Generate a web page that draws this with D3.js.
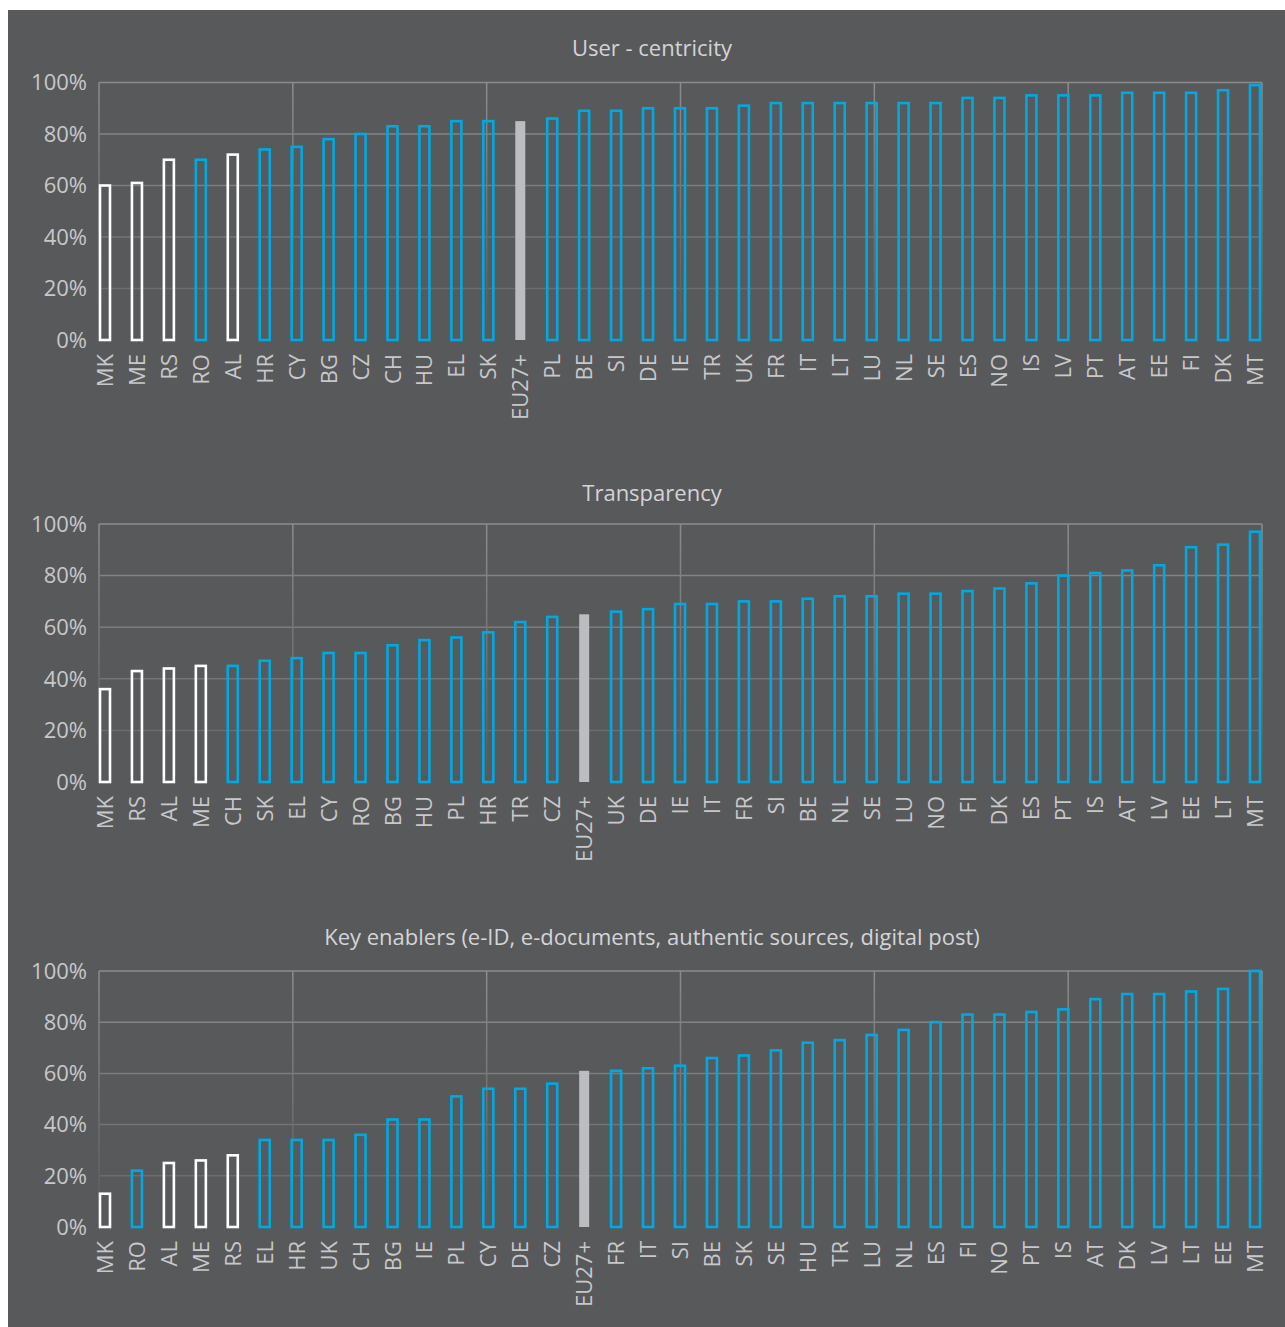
<!DOCTYPE html>
<html>
<head>
<meta charset="utf-8">
<script src="https://cdn.jsdelivr.net/npm/d3@7"></script>
<style>
  body { margin: 0; background: #ffffff; }
  svg text { font-family: "Open Sans", "DejaVu Sans", sans-serif; }
</style>
</head>
<body>
<div id="chart"></div>
<script>
// Dados dos três painéis (valores em %)
const userCats = ["MK","ME","RS","RO","AL","HR","CY","BG","CZ","CH","HU","EL","SK","EU27+","PL","BE","SI","DE","IE","TR","UK","FR","IT","LT","LU","NL","SE","ES","NO","IS","LV","PT","AT","EE","FI","DK","MT"];
const userVals = [60,61,70,70,72,74,75,78,80,83,83,85,85,85,86,89,89,90,90,90,91,92,92,92,92,92,92,94,94,95,95,95,96,96,96,97,99];

const transCats = ["MK","RS","AL","ME","CH","SK","EL","CY","RO","BG","HU","PL","HR","TR","CZ","EU27+","UK","DE","IE","IT","FR","SI","BE","NL","SE","LU","NO","FI","DK","ES","PT","IS","AT","LV","EE","LT","MT"];
const transVals = [36,43,44,45,45,47,48,50,50,53,55,56,58,62,64,65,66,67,69,69,70,70,71,72,72,73,73,74,75,77,80,81,82,84,91,92,97];

const keyCats = ["MK","RO","AL","ME","RS","EL","HR","UK","CH","BG","IE","PL","CY","DE","CZ","EU27+","FR","IT","SI","BE","SK","SE","HU","TR","LU","NL","ES","FI","NO","PT","IS","AT","DK","LV","LT","EE","MT"];
const keyVals = [13,22,25,26,28,34,34,34,36,42,42,51,54,54,56,61,61,62,63,66,67,69,72,73,75,77,80,83,83,84,85,89,91,91,92,93,100];

const nonEU = ["MK","ME","RS","AL"];
const yTicks = [0, 20, 40, 60, 80, 100];

const panels = [
  { title: "User - centricity", cats: userCats, vals: userVals, top: 82.5, bottom: 340, ty: 48 },
  { title: "Transparency", cats: transCats, vals: transVals, top: 524, bottom: 782, ty: 493 },
  { title: "Key enablers (e-ID, e-documents, authentic sources, digital post)", cats: keyCats, vals: keyVals, top: 971, bottom: 1227, ty: 937 }
];

const W = 1285, H = 1327;
const left = 99, right = 1262;
const blue = "#00a9e0", bg = "#58595b";

const svg = d3.select("#chart").append("svg")
  .attr("width", W).attr("height", H);

svg.append("rect")
  .attr("x", 8).attr("y", 10)
  .attr("width", W - 8).attr("height", H - 10)
  .attr("fill", bg);

panels.forEach((p, pi) => {
  const g = svg.append("g");
  const x = d3.scalePoint().domain(p.cats).range([105, 1255]);
  const y = d3.scaleLinear().domain([0, 100]).range([p.bottom, p.top]);

  // gradiente para as linhas verticais (somem para baixo)
  const gid = "vgrad" + pi;
  const grad = svg.append("defs").append("linearGradient")
    .attr("id", gid).attr("gradientUnits", "userSpaceOnUse")
    .attr("x1", 0).attr("x2", 0).attr("y1", p.top).attr("y2", p.bottom);
  grad.append("stop").attr("offset", "0%").attr("stop-color", "#8c8c8e");
  grad.append("stop").attr("offset", "100%").attr("stop-color", bg);

  // grade horizontal
  g.selectAll(".hgrid").data(yTicks.filter(d => d > 0)).enter()
    .append("line")
    .attr("x1", left).attr("x2", right)
    .attr("y1", d => y(d)).attr("y2", d => y(d))
    .attr("stroke", d => d3.interpolateRgb(bg, "#8c8c8e")(0.25 + 0.75 * d / 100))
    .attr("stroke-width", 1.5);

  // grade vertical (6 divisões)
  const vx = d3.range(7).map(i => left + i * (right - left) / 6);
  g.selectAll(".vgrid").data(vx).enter()
    .append("line")
    .attr("x1", d => d).attr("x2", d => d)
    .attr("y1", p.top).attr("y2", p.bottom)
    .attr("stroke", "url(#" + gid + ")")
    .attr("stroke-width", 1.5);

  // rótulos do eixo y
  g.selectAll(".ytick").data(yTicks).enter()
    .append("text")
    .attr("x", 87).attr("y", d => y(d))
    .attr("dy", "0.35em")
    .attr("text-anchor", "end")
    .attr("fill", "#c8c8ca")
    .attr("font-size", 22)
    .text(d => d + "%");

  // barras
  const bw = 10;
  const data = p.cats.map((c, i) => ({ c: c, v: p.vals[i] }));
  g.selectAll(".bar").data(data).enter()
    .append("rect")
    .attr("x", d => x(d.c) - bw / 2)
    .attr("y", d => y(d.v))
    .attr("width", bw)
    .attr("height", d => y(0) - y(d.v))
    .attr("fill", d => d.c === "EU27+" ? "#bcbdc0" : "none")
    .attr("stroke", d => d.c === "EU27+" ? "none" : (nonEU.includes(d.c) ? "#ffffff" : blue))
    .attr("stroke-width", 2.6);

  // rótulos das categorias
  g.selectAll(".xlab").data(p.cats).enter()
    .append("text")
    .attr("transform", d => `translate(${x(d) + 8},${p.bottom + 14}) rotate(-90)`)
    .attr("text-anchor", "end")
    .attr("fill", "#c8c8ca")
    .attr("font-size", 22)
    .text(d => d);

  // título
  g.append("text")
    .attr("x", 652).attr("y", p.ty)
    .attr("dy", "0.35em")
    .attr("text-anchor", "middle")
    .attr("fill", "#d4d4d6")
    .attr("font-size", 22)
    .text(p.title);
});
</script>
</body>
</html>
